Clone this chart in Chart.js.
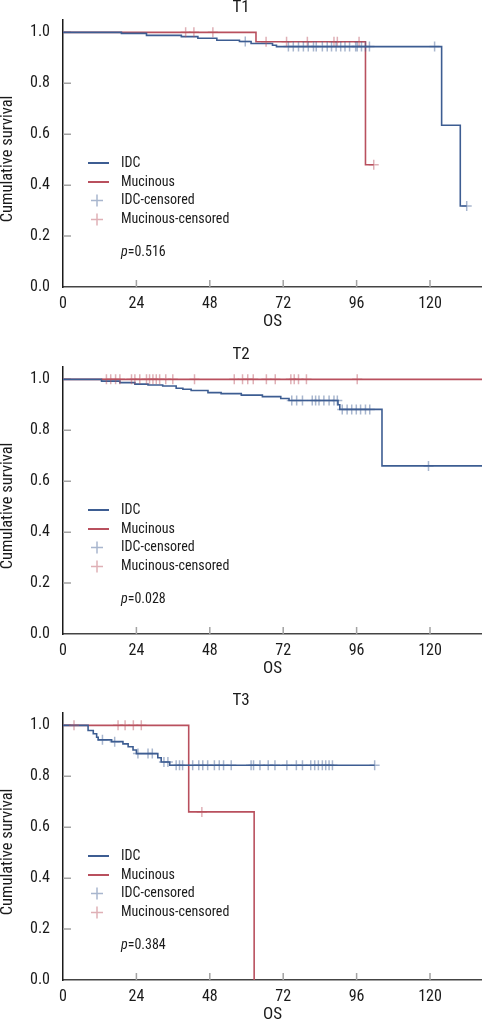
<!DOCTYPE html>
<html>
<head>
<meta charset="utf-8">
<script src="https://cdn.jsdelivr.net/npm/chart.js@4.4.1/dist/chart.umd.min.js"></script>
<style>
  html, body { margin: 0; padding: 0; background: #fff; }
  #wrap { position: relative; width: 482px; height: 1021px; overflow: hidden; }
  canvas { position: absolute; left: 0; }
</style>
</head>
<body>
<div id="wrap">
  <canvas id="t1" width="482" height="335" style="top:-3px"></canvas>
  <canvas id="t2" width="482" height="335" style="top:344px"></canvas>
  <canvas id="t3" width="482" height="335" style="top:690px"></canvas>
</div>
<script>
// ---- data ----
const panelTitles = ['T1', 'T2', 'T3'];
const pValues = ['0.516', '0.028', '0.384'];
const seriesLabels = ['IDC', 'Mucinous', 'IDC-censored', 'Mucinous-censored'];
const xTicks = [0, 24, 48, 72, 96, 120];
const yTicks = [0, 0.2, 0.4, 0.6, 0.8, 1.0];

// T1
const t1IdcTime = [0, 19.1, 27.3, 38.7, 44.1, 50.3, 57.7, 61.5, 68.5, 69.8, 123.8, 129.9, 132.0];
const t1IdcSurv = [1, 0.996, 0.988, 0.983, 0.977, 0.969, 0.964, 0.956, 0.949, 0.944, 0.635, 0.318, 0.318];
const t1IdcCens = [59.6, 73.7, 75.3, 77.0, 78.6, 80.2, 81.9, 82.8, 84.8, 86.4, 87.8, 89.3, 90.8, 92.2,
                   93.7, 95.7, 96.2, 97.6, 98.9, 100.2, 121.5, 132.0];
const t1MucTime = [0, 63.1, 98.9, 101.6];
const t1MucSurv = [1, 0.963, 0.48, 0.48];
const t1MucCens = [40.1, 42.8, 49.0, 66.4, 73.1, 79.9, 88.6, 89.7, 96.8, 101.6];

// T2
const t2IdcTime = [0, 12.6, 18.6, 23.5, 27.8, 32.6, 37.0, 39.2, 41.9, 47.4, 51.7, 58.3, 65.2, 71.2, 73.9,
                   89.9, 90.5, 104.3, 137];
const t2IdcSurv = [1, 0.993, 0.987, 0.981, 0.978, 0.974, 0.965, 0.961, 0.956, 0.948, 0.944, 0.938, 0.932,
                   0.925, 0.917, 0.900, 0.882, 0.66, 0.66];
const t2IdcCens = [74.8, 76.4, 78.3, 81.5, 82.6, 83.7, 85.3, 87.0, 88.6, 89.7, 91.3, 92.9, 94.4, 95.9,
                   97.3, 98.9, 100.3, 119.5];
const t2MucTime = [0, 137];
const t2MucSurv = [1, 1];
const t2MucCens = [14.2, 15.6, 17.2, 18.6, 22.4, 23.5, 25.1, 27.3, 28.3, 29.4, 30.5, 31.6, 33.6, 35.9,
                   43.0, 56.0, 58.7, 60.4, 62.2, 66.5, 69.4, 74.5, 75.6, 77.0, 79.6, 96.2];

// T3
const t3IdcTime = [0, 8.2, 9.9, 11.0, 11.5, 15.9, 19.6, 21.3, 22.9, 24.0, 31.0, 32.1, 34.9, 101.9];
const t3IdcSurv = [1, 0.980, 0.967, 0.953, 0.943, 0.936, 0.927, 0.916, 0.903, 0.889, 0.873, 0.856, 0.843, 0.843];
const t3IdcCens = [12.9, 16.9, 24.5, 27.8, 29.2, 33.0, 34.3, 37.0, 38.1, 39.1, 42.4, 44.4, 45.7, 47.3,
                   49.5, 51.1, 52.5, 55.0, 61.5, 62.3, 64.4, 67.1, 69.3, 73.2, 76.3, 78.3, 81.0, 82.3,
                   83.5, 84.8, 85.9, 87.0, 88.1, 101.9];
const t3MucTime = [0, 41.1, 62.5];
const t3MucSurv = [1, 0.66, 0];
const t3MucCens = [3.6, 18.0, 20.3, 23.0, 25.6, 45.4];

// ---- styling ----
const FONT = "'Roboto Condensed', Roboto, sans-serif";
const TEXT = '#1a1a1a';
const BLUE = '#3d5d92';
const RED = '#b9505e';
const BLUE_CENS = 'rgba(61, 93, 146, 0.45)';
const RED_CENS = 'rgba(185, 80, 94, 0.45)';

// Step-function value at time t (value of last step at or before t)
const survAt = (times, surv, t) => {
  let v = surv[0];
  times.forEach((x, i) => { if (x <= t) v = surv[i]; });
  return v;
};
const toPoints = (times, surv) => times.map((t, i) => ({ x: t, y: surv[i] }));
const censPoints = (cens, times, surv) => cens.map(t => ({ x: t, y: survAt(times, surv, t) }));

// Inner tick marks, legend box and p-value
const kmDecor = {
  id: 'kmDecor',
  beforeDatasetsDraw(chart) {
    const { ctx, chartArea, scales: { x, y } } = chart;
    ctx.save();
    ctx.strokeStyle = '#a3a3a3';
    ctx.lineWidth = 1.5;
    ctx.beginPath();
    yTicks.slice(1).forEach(v => {
      const py = y.getPixelForValue(v);
      ctx.moveTo(chartArea.left, py);
      ctx.lineTo(chartArea.left + 8, py);
    });
    xTicks.slice(1).forEach(v => {
      const px = x.getPixelForValue(v);
      ctx.moveTo(px, chartArea.bottom);
      ctx.lineTo(px, chartArea.bottom - 7);
    });
    ctx.stroke();
    ctx.restore();
  },
  afterDraw(chart, args, opts) {
    const { ctx, chartArea: { left, bottom } } = chart;
    const colors = [BLUE, RED, BLUE_CENS, RED_CENS];
    const rowOffsets = [124, 105, 86.5, 67.5];
    ctx.save();
    ctx.textBaseline = 'middle';
    ctx.fillStyle = TEXT;
    ctx.font = `14px ${FONT}`;
    seriesLabels.forEach((label, i) => {
      const yy = bottom - rowOffsets[i];
      ctx.strokeStyle = colors[i];
      ctx.beginPath();
      if (i < 2) {
        ctx.lineWidth = 2;
        ctx.moveTo(left + 25, yy);
        ctx.lineTo(left + 46, yy);
      } else {
        ctx.lineWidth = 1.5;
        ctx.moveTo(left + 28, yy);
        ctx.lineTo(left + 40, yy);
        ctx.moveTo(left + 34, yy - 6);
        ctx.lineTo(left + 34, yy + 6);
      }
      ctx.stroke();
      ctx.fillText(label, left + 58, yy);
    });
    // p-value with italic p
    const py = bottom - 34.5;
    ctx.font = `italic 14px ${FONT}`;
    ctx.fillText('p', left + 58, py);
    const w = ctx.measureText('p').width;
    ctx.font = `14px ${FONT}`;
    ctx.fillText('=' + opts.p, left + 58 + w, py);
    ctx.restore();
  }
};

const createKmChart = (canvasId, title, p, idc, muc) => {
  const ctx = document.getElementById(canvasId).getContext('2d');

  const lineStyle = { stepped: true, pointRadius: 0, borderWidth: 1.6, fill: false, tension: 0, order: 1 };
  const censStyle = { showLine: false, pointStyle: 'cross', pointRadius: 5, pointBorderWidth: 1.5, order: 0 };

  return new Chart(ctx, {
    type: 'line',
    data: {
      datasets: [
        { ...lineStyle, label: seriesLabels[0], data: toPoints(idc.time, idc.surv), borderColor: BLUE },
        { ...lineStyle, label: seriesLabels[1], data: toPoints(muc.time, muc.surv), borderColor: RED },
        { ...censStyle, label: seriesLabels[2], data: censPoints(idc.cens, idc.time, idc.surv), borderColor: BLUE_CENS },
        { ...censStyle, label: seriesLabels[3], data: censPoints(muc.cens, muc.time, muc.surv), borderColor: RED_CENS }
      ]
    },
    options: {
      responsive: false,
      animation: false,
      events: [],
      layout: { padding: 0, autoPadding: false },
      scales: {
        x: {
          type: 'linear',
          min: 0,
          max: 137,
          afterBuildTicks: (s) => { s.ticks = xTicks.map(v => ({ value: v })); },
          afterFit: (s) => { s.height = 45; s.paddingLeft = 0; s.paddingRight = 0; },
          grid: { display: false, drawTicks: false },
          border: { display: true, color: '#444', width: 1.5 },
          ticks: { padding: 7, color: TEXT, font: { family: FONT, size: 16 }, maxRotation: 0, callback: (v) => v },
          title: { display: true, text: 'OS', color: TEXT, padding: 0, font: { family: FONT, size: 17, lineHeight: 1.2 } }
        },
        y: {
          min: 0,
          max: 1.05,
          afterBuildTicks: (s) => { s.ticks = yTicks.map(v => ({ value: v })); },
          afterFit: (s) => { s.width = 63; },
          grid: { display: false, drawTicks: false },
          border: { display: true, color: '#1a1a1a', width: 1.5 },
          ticks: { padding: 13, color: TEXT, font: { family: FONT, size: 16 }, callback: (v) => v.toFixed(1) },
          // trailing spaces nudge the rotated title a few px down, as in the reference
          title: { display: true, text: 'Cumulative survival   ', color: TEXT, padding: 0, font: { family: FONT, size: 16.5, lineHeight: 0.95 } }
        }
      },
      plugins: {
        legend: { display: false },
        tooltip: { enabled: false },
        title: {
          display: true,
          text: title,
          color: TEXT,
          font: { family: FONT, size: 17, weight: 'normal', lineHeight: 1.2 },
          padding: { top: 0, bottom: 2 }
        },
        kmDecor: { p }
      }
    },
    plugins: [kmDecor]
  });
};

createKmChart('t1', panelTitles[0], pValues[0],
  { time: t1IdcTime, surv: t1IdcSurv, cens: t1IdcCens },
  { time: t1MucTime, surv: t1MucSurv, cens: t1MucCens });
createKmChart('t2', panelTitles[1], pValues[1],
  { time: t2IdcTime, surv: t2IdcSurv, cens: t2IdcCens },
  { time: t2MucTime, surv: t2MucSurv, cens: t2MucCens });
createKmChart('t3', panelTitles[2], pValues[2],
  { time: t3IdcTime, surv: t3IdcSurv, cens: t3IdcCens },
  { time: t3MucTime, surv: t3MucSurv, cens: t3MucCens });
</script>
</body>
</html>
